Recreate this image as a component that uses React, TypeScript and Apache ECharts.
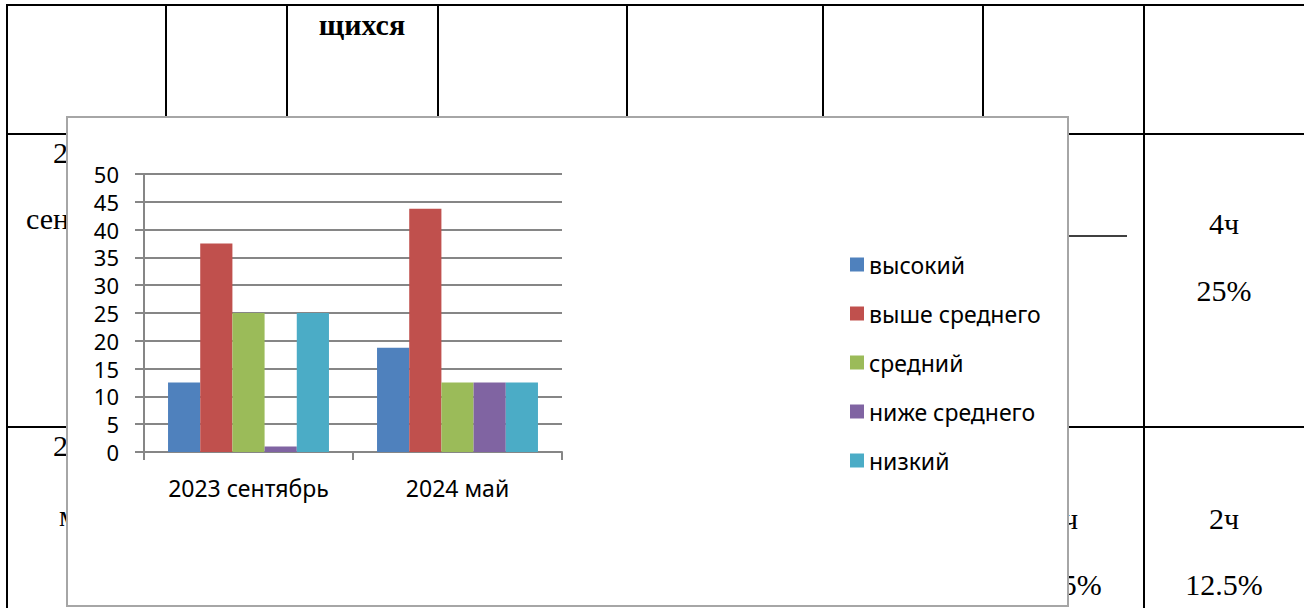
import React, { useEffect, useRef } from "react";
import * as echarts from "echarts";

const categories = ["2023 сентябрь", "2024 май"];
const seriesNames = ["высокий", "выше среднего", "средний", "ниже среднего", "низкий"];
const vysokiy = [12.5, 18.75];
const vysheSrednego = [37.5, 43.75];
const sredniy = [25, 12.5];
const nizheSrednego = [1, 12.5];
const nizkiy = [25, 12.5];
const seriesValues = [vysokiy, vysheSrednego, sredniy, nizheSrednego, nizkiy];
const seriesColors = ["#4F81BD", "#C0504D", "#9BBB59", "#8064A2", "#4BACC6"];
const yMin = 0;
const yMax = 50;
const yStep = 5;

const SANS = '"Noto Sans", "Open Sans", sans-serif';
const SERIF = '"Liberation Serif", "DejaVu Serif", serif';

function tableGraphics() {
  const els: any[] = [];
  const line = (x1: number, y1: number, x2: number, y2: number, w = 2) =>
    els.push({
      type: "line",
      silent: true,
      z: -10,
      shape: { x1, y1, x2, y2 },
      style: { stroke: "#000", lineWidth: w },
    });
  // horizontal rules
  line(6, 5, 1304, 5);
  line(6, 134, 1304, 134);
  line(6, 427, 1304, 427);
  // vertical rules (full height where visible, others end under the chart box)
  [7, 1144].forEach((x) => line(x, 4, x, 608));
  [166, 287, 438, 627, 823, 983].forEach((x) => line(x, 4, x, 120));
  // dash in a cell
  line(1040, 236, 1127, 236, 1.5);

  const text = (t: string, x: number, y: number, align: string, bold = false) =>
    els.push({
      type: "text",
      silent: true,
      z: -9,
      x,
      y,
      style: {
        text: t,
        font: `${bold ? "bold " : ""}30px ${SERIF}`,
        fill: "#000",
        textAlign: align,
        textVerticalAlign: "middle",
      },
    });
  text("щихся", 362, 24, "center", true);
  text("2", 53, 152, "left");
  text("сен", 26, 218, "left");
  text("2", 53, 445, "left");
  text("м", 59, 515, "left");
  text("4ч", 1224, 223, "center");
  text("25%", 1224, 290, "center");
  text("2ч", 1063, 518, "center");
  text("12.5%", 1063, 584, "center");
  text("2ч", 1224, 518, "center");
  text("12.5%", 1224, 584, "center");

  // chart area box
  els.push({
    type: "rect",
    silent: true,
    z: -5,
    shape: { x: 67, y: 117, width: 1001, height: 489 },
    style: { fill: "#fff", stroke: "#A6A6A6", lineWidth: 2 },
  });
  return els;
}

export default function App() {
  const ref = useRef<HTMLDivElement>(null);
  useEffect(() => {
    document.body.style.margin = "0";
    const chart = echarts.init(ref.current!, undefined, { renderer: "svg" });
    const gridColor = "#868686";
    chart.setOption({
      animation: false,
      backgroundColor: "#fff",
      graphic: tableGraphics(),
      grid: { left: 144, top: 174, width: 418, height: 278, containLabel: false },
      legend: {
        orient: "vertical",
        left: 850,
        top: 253,
        padding: 0,
        icon: "rect",
        itemWidth: 14,
        itemHeight: 14,
        itemGap: 26,
        data: seriesNames,
        textStyle: { fontSize: 23, lineHeight: 22, fontFamily: SANS, color: "#000" },
      },
      xAxis: {
        type: "category",
        data: categories,
        axisLine: { lineStyle: { color: gridColor, width: 2 } },
        axisTick: { show: true, length: 8, lineStyle: { color: gridColor, width: 2 } },
        axisLabel: { color: "#000", fontSize: 23, fontFamily: SANS, margin: 24 },
        splitLine: { show: false },
      },
      yAxis: {
        type: "value",
        min: yMin,
        max: yMax,
        interval: yStep,
        axisLine: { show: true, lineStyle: { color: gridColor, width: 2 } },
        axisTick: { show: true, length: 9, lineStyle: { color: gridColor, width: 2 } },
        axisLabel: { color: "#000", fontSize: 22, fontFamily: SANS, margin: 25 },
        splitLine: { show: true, lineStyle: { color: gridColor, width: 2 } },
      },
      series: seriesNames.map((name, i) => ({
        name,
        type: "bar",
        data: seriesValues[i],
        barGap: "0%",
        barCategoryGap: "23%",
        itemStyle: { color: seriesColors[i] },
      })),
    });
    return () => chart.dispose();
  }, []);
  return (
    <div
      ref={ref}
      style={{ position: "absolute", left: 0, top: 0, width: 1304, height: 608 }}
    />
  );
}
